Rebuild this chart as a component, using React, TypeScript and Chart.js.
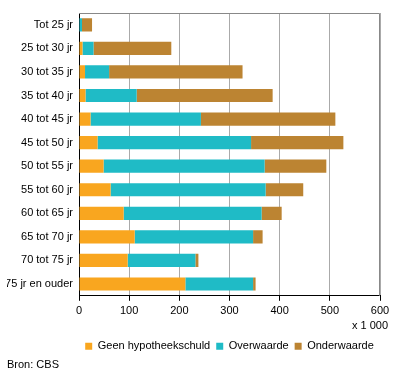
import React, { useEffect, useRef } from 'react';
import { Chart, registerables } from 'chart.js';

Chart.register(...registerables);

const categories = [
  'Tot 25 jr',
  '25 tot 30 jr',
  '30 tot 35 jr',
  '35 tot 40 jr',
  '40 tot 45 jr',
  '45 tot 50 jr',
  '50 tot 55 jr',
  '55 tot 60 jr',
  '60 tot 65 jr',
  '65 tot 70 jr',
  '70 tot 75 jr',
  '75 jr en ouder',
];
const seriesNames = ['Geen hypotheekschuld', 'Overwaarde', 'Onderwaarde'];
const geenHypotheekschuld = [1, 7, 12, 13, 23, 37, 49, 63, 89, 111, 97, 212];
const overwaarde = [5, 22, 48, 102, 220, 306, 321, 309, 275, 236, 135, 135];
const onderwaarde = [20, 155, 266, 271, 268, 184, 123, 75, 40, 19, 6, 5];
const xMin = 0;
const xMax = 600;
const xStep = 100;
const unitLabel = 'x 1 000';
const sourceLabel = 'Bron: CBS';

const colors = ['#F9A61F', '#1FBBC6', '#BC8432'];
const FONT = "Arial, 'Liberation Sans', sans-serif";

export default function App() {
  const ref = useRef<HTMLCanvasElement | null>(null);

  useEffect(() => {
    if (!ref.current) return;
    const frame = {
      id: 'frame',
      beforeDatasetsDraw(chart: any) {
        const { ctx, chartArea } = chart;
        ctx.save();
        ctx.strokeStyle = '#888888';
        ctx.lineWidth = 1;
        ctx.beginPath();
        const t = Math.round(chartArea.top) + 0.5;
        const r = Math.round(chartArea.right) - 0.5;
        ctx.moveTo(chartArea.left, t);
        ctx.lineTo(r, t);
        ctx.lineTo(r, chartArea.bottom);
        ctx.stroke();
        ctx.restore();
      },
      afterDraw(chart: any) {
        const { ctx } = chart;
        ctx.save();
        ctx.font = `11px ${FONT}`;
        ctx.fillStyle = '#000';
        ctx.textAlign = 'right';
        ctx.textBaseline = 'middle';
        ctx.fillText(unitLabel, 388, 326);
        ctx.restore();
      },
    };

    const chart = new Chart(ref.current, {
      type: 'bar',
      data: {
        labels: categories,
        datasets: [geenHypotheekschuld, overwaarde, onderwaarde].map((d, i) => ({
          label: seriesNames[i],
          data: d,
          backgroundColor: colors[i],
          borderWidth: 0,
          barPercentage: 0.56,
          categoryPercentage: 1,
        })),
      },
      options: {
        indexAxis: 'y',
        responsive: false,
        animation: false,
        layout: { padding: { left: 7, right: 16, top: 13, bottom: 0 } },
        font: { family: FONT, size: 11 },
        scales: {
          x: {
            stacked: true,
            min: xMin,
            max: xMax,
            ticks: { stepSize: xStep, color: '#000', font: { family: FONT, size: 11 }, padding: 4 },
            grid: { color: '#aaaaaa', tickColor: '#000', tickLength: 5 },
            border: { color: '#000', width: 1 },
            afterFit(scale: any) {
              scale.height = 39;
            },
          },
          y: {
            stacked: true,
            ticks: { color: '#000', font: { family: FONT, size: 11 }, padding: 6 },
            grid: { display: false, drawTicks: false },
            border: { display: true, color: '#000', width: 1 },
            afterFit(scale: any) {
              scale.width = 72;
            },
          },
        },
        plugins: {
          legend: {
            position: 'bottom',
            fullSize: false,
            labels: {
              boxWidth: 7,
              boxHeight: 7,
              padding: 6,
              color: '#000',
              font: { family: FONT, size: 11 },
            },
          },
          subtitle: {
            display: true,
            text: sourceLabel,
            position: 'bottom',
            align: 'start',
            color: '#000',
            font: { family: FONT, size: 11, weight: 'normal' },
            padding: { top: -3, bottom: 6 },
          },
          tooltip: { enabled: false },
        },
      },
      plugins: [frame],
    });
    return () => chart.destroy();
  }, []);

  return (
    <div style={{ position: 'absolute', left: 0, top: 0, width: 396, height: 378 }}>
      <canvas ref={ref} width={396} height={378} />
    </div>
  );
}
